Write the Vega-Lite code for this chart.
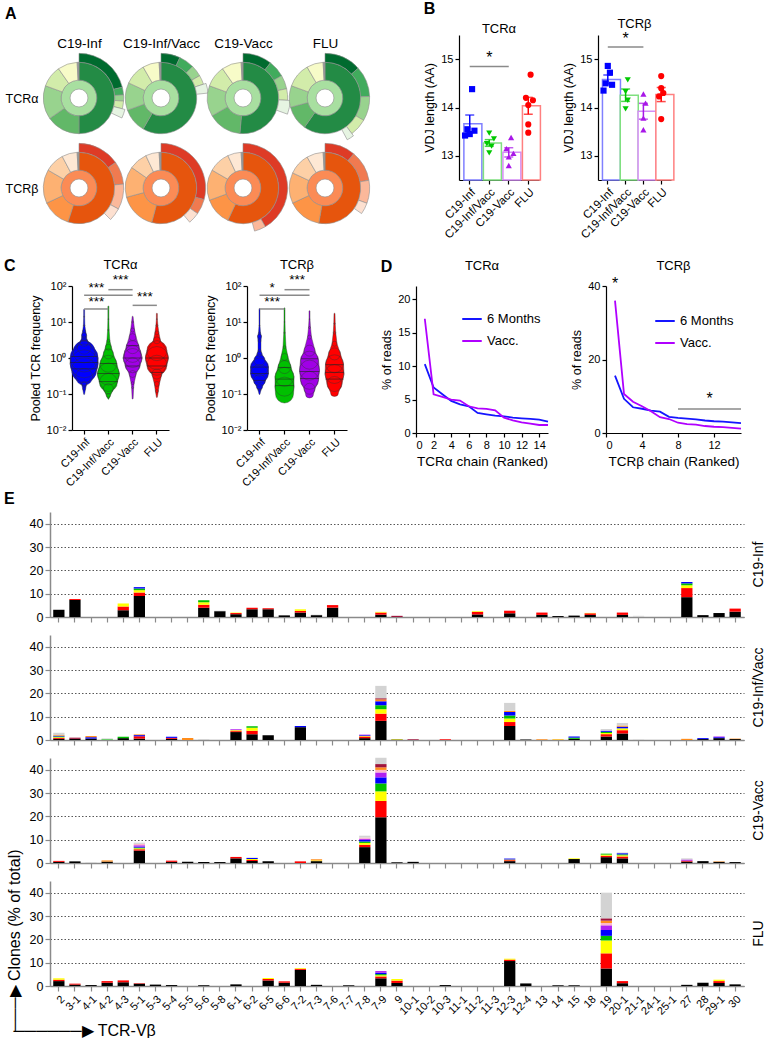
{
"$schema":"https://vega.github.io/schema/vega-lite/v6.json",
"background":"white",
"padding":{"left":4,"top":0,"right":2,"bottom":0},
"config":{
 "font":"Liberation Sans",
 "view":{"stroke":null},
 "axis":{"domainColor":"#000","domainWidth":1.2,"tickColor":"#000","tickWidth":1.2,"tickSize":4,"labelColor":"#000","titleColor":"#000","labelFontSize":11,"titleFontSize":12.5,"titleFontWeight":"normal","grid":false,"labelFont":"Liberation Sans","titleFont":"Liberation Sans"},
 "title":{"font":"Liberation Sans","fontWeight":"normal","fontSize":13,"color":"#000"},
 "legend":{"labelFont":"Liberation Sans","labelFontSize":12.5}
},
"datasets":{
"donut":[
{"c":"TCRα","g":"C19-Inf","t0":0,"t1":360,"r0":1,"r1":2,"s":"ai"},
{"c":"TCRα","g":"C19-Inf","t0":0,"t1":180,"r0":2,"r1":4,"s":"a1"},
{"c":"TCRα","g":"C19-Inf","t0":180,"t1":235,"r0":2,"r1":4,"s":"a3"},
{"c":"TCRα","g":"C19-Inf","t0":235,"t1":290,"r0":2,"r1":4,"s":"a4"},
{"c":"TCRα","g":"C19-Inf","t0":290,"t1":325,"r0":2,"r1":4,"s":"a6"},
{"c":"TCRα","g":"C19-Inf","t0":325,"t1":357,"r0":2,"r1":4,"s":"a7"},
{"c":"TCRα","g":"C19-Inf","t0":357,"t1":360,"r0":2,"r1":4,"s":"gr"},
{"c":"TCRα","g":"C19-Inf","t0":0,"t1":76,"r0":4,"r1":5,"s":"a0"},
{"c":"TCRα","g":"C19-Inf","t0":76,"t1":86,"r0":4,"r1":5,"s":"a2"},
{"c":"TCRα","g":"C19-Inf","t0":86,"t1":94,"r0":4,"r1":5,"s":"a4"},
{"c":"TCRα","g":"C19-Inf","t0":94,"t1":104,"r0":4,"r1":5,"s":"a6"},
{"c":"TCRα","g":"C19-Inf","t0":104,"t1":115,"r0":4,"r1":5.3,"s":"a8"},
{"c":"TCRα","g":"C19-Inf/Vacc","t0":0,"t1":360,"r0":1,"r1":2,"s":"ai"},
{"c":"TCRα","g":"C19-Inf/Vacc","t0":0,"t1":210,"r0":2,"r1":4,"s":"a1"},
{"c":"TCRα","g":"C19-Inf/Vacc","t0":210,"t1":250,"r0":2,"r1":4,"s":"a3"},
{"c":"TCRα","g":"C19-Inf/Vacc","t0":250,"t1":295,"r0":2,"r1":4,"s":"a4"},
{"c":"TCRα","g":"C19-Inf/Vacc","t0":295,"t1":330,"r0":2,"r1":4,"s":"a6"},
{"c":"TCRα","g":"C19-Inf/Vacc","t0":330,"t1":357,"r0":2,"r1":4,"s":"a7"},
{"c":"TCRα","g":"C19-Inf/Vacc","t0":357,"t1":360,"r0":2,"r1":4,"s":"gr"},
{"c":"TCRα","g":"C19-Inf/Vacc","t0":0,"t1":25,"r0":4,"r1":5,"s":"a0"},
{"c":"TCRα","g":"C19-Inf/Vacc","t0":25,"t1":45,"r0":4,"r1":5,"s":"a2"},
{"c":"TCRα","g":"C19-Inf/Vacc","t0":45,"t1":60,"r0":4,"r1":5,"s":"a4"},
{"c":"TCRα","g":"C19-Inf/Vacc","t0":60,"t1":72,"r0":4,"r1":5,"s":"a6"},
{"c":"TCRα","g":"C19-Inf/Vacc","t0":72,"t1":84,"r0":4,"r1":5.3,"s":"a8"},
{"c":"TCRα","g":"C19-Vacc","t0":0,"t1":360,"r0":1,"r1":2,"s":"ai"},
{"c":"TCRα","g":"C19-Vacc","t0":0,"t1":185,"r0":2,"r1":4,"s":"a1"},
{"c":"TCRα","g":"C19-Vacc","t0":185,"t1":240,"r0":2,"r1":4,"s":"a3"},
{"c":"TCRα","g":"C19-Vacc","t0":240,"t1":290,"r0":2,"r1":4,"s":"a4"},
{"c":"TCRα","g":"C19-Vacc","t0":290,"t1":325,"r0":2,"r1":4,"s":"a6"},
{"c":"TCRα","g":"C19-Vacc","t0":325,"t1":357,"r0":2,"r1":4,"s":"a7"},
{"c":"TCRα","g":"C19-Vacc","t0":357,"t1":360,"r0":2,"r1":4,"s":"gr"},
{"c":"TCRα","g":"C19-Vacc","t0":0,"t1":38,"r0":4,"r1":5,"s":"a0"},
{"c":"TCRα","g":"C19-Vacc","t0":38,"t1":60,"r0":4,"r1":5,"s":"a2"},
{"c":"TCRα","g":"C19-Vacc","t0":60,"t1":78,"r0":4,"r1":5,"s":"a4"},
{"c":"TCRα","g":"C19-Vacc","t0":78,"t1":93,"r0":4,"r1":5,"s":"a6"},
{"c":"TCRα","g":"C19-Vacc","t0":93,"t1":110,"r0":4,"r1":5.3,"s":"a8"},
{"c":"TCRα","g":"FLU","t0":0,"t1":360,"r0":1,"r1":2,"s":"ai"},
{"c":"TCRα","g":"FLU","t0":0,"t1":215,"r0":2,"r1":4,"s":"a1"},
{"c":"TCRα","g":"FLU","t0":215,"t1":255,"r0":2,"r1":4,"s":"a3"},
{"c":"TCRα","g":"FLU","t0":255,"t1":290,"r0":2,"r1":4,"s":"a4"},
{"c":"TCRα","g":"FLU","t0":290,"t1":330,"r0":2,"r1":4,"s":"a6"},
{"c":"TCRα","g":"FLU","t0":330,"t1":357,"r0":2,"r1":4,"s":"a7"},
{"c":"TCRα","g":"FLU","t0":357,"t1":360,"r0":2,"r1":4,"s":"gr"},
{"c":"TCRα","g":"FLU","t0":0,"t1":48,"r0":4,"r1":5,"s":"a0"},
{"c":"TCRα","g":"FLU","t0":48,"t1":88,"r0":4,"r1":5,"s":"a2"},
{"c":"TCRα","g":"FLU","t0":88,"t1":120,"r0":4,"r1":5,"s":"a4"},
{"c":"TCRα","g":"FLU","t0":120,"t1":143,"r0":4,"r1":5,"s":"a6"},
{"c":"TCRα","g":"FLU","t0":143,"t1":152,"r0":4,"r1":5.3,"s":"a8"},
{"c":"TCRβ","g":"C19-Inf","t0":0,"t1":360,"r0":1,"r1":2,"s":"bi"},
{"c":"TCRβ","g":"C19-Inf","t0":0,"t1":198,"r0":2,"r1":4,"s":"b1"},
{"c":"TCRβ","g":"C19-Inf","t0":198,"t1":245,"r0":2,"r1":4,"s":"b3"},
{"c":"TCRβ","g":"C19-Inf","t0":245,"t1":300,"r0":2,"r1":4,"s":"b4"},
{"c":"TCRβ","g":"C19-Inf","t0":300,"t1":332,"r0":2,"r1":4,"s":"b6"},
{"c":"TCRβ","g":"C19-Inf","t0":332,"t1":357,"r0":2,"r1":4,"s":"b7"},
{"c":"TCRβ","g":"C19-Inf","t0":357,"t1":360,"r0":2,"r1":4,"s":"gr"},
{"c":"TCRβ","g":"C19-Inf","t0":0,"t1":55,"r0":4,"r1":5,"s":"b0"},
{"c":"TCRβ","g":"C19-Inf","t0":55,"t1":85,"r0":4,"r1":5,"s":"b2"},
{"c":"TCRβ","g":"C19-Inf","t0":85,"t1":118,"r0":4,"r1":5,"s":"b5"},
{"c":"TCRβ","g":"C19-Inf","t0":118,"t1":135,"r0":4,"r1":5,"s":"b8"},
{"c":"TCRβ","g":"C19-Inf/Vacc","t0":0,"t1":360,"r0":1,"r1":2,"s":"bi"},
{"c":"TCRβ","g":"C19-Inf/Vacc","t0":0,"t1":195,"r0":2,"r1":4,"s":"b1"},
{"c":"TCRβ","g":"C19-Inf/Vacc","t0":195,"t1":255,"r0":2,"r1":4,"s":"b3"},
{"c":"TCRβ","g":"C19-Inf/Vacc","t0":255,"t1":305,"r0":2,"r1":4,"s":"b4"},
{"c":"TCRβ","g":"C19-Inf/Vacc","t0":305,"t1":335,"r0":2,"r1":4,"s":"b6"},
{"c":"TCRβ","g":"C19-Inf/Vacc","t0":335,"t1":357,"r0":2,"r1":4,"s":"b7"},
{"c":"TCRβ","g":"C19-Inf/Vacc","t0":357,"t1":360,"r0":2,"r1":4,"s":"gr"},
{"c":"TCRβ","g":"C19-Inf/Vacc","t0":0,"t1":105,"r0":4,"r1":5,"s":"b0"},
{"c":"TCRβ","g":"C19-Inf/Vacc","t0":105,"t1":125,"r0":4,"r1":5,"s":"b2"},
{"c":"TCRβ","g":"C19-Inf/Vacc","t0":125,"t1":140,"r0":4,"r1":5,"s":"b8"},
{"c":"TCRβ","g":"C19-Vacc","t0":0,"t1":360,"r0":1,"r1":2,"s":"bi"},
{"c":"TCRβ","g":"C19-Vacc","t0":0,"t1":205,"r0":2,"r1":4,"s":"b1"},
{"c":"TCRβ","g":"C19-Vacc","t0":205,"t1":250,"r0":2,"r1":4,"s":"b3"},
{"c":"TCRβ","g":"C19-Vacc","t0":250,"t1":300,"r0":2,"r1":4,"s":"b4"},
{"c":"TCRβ","g":"C19-Vacc","t0":300,"t1":335,"r0":2,"r1":4,"s":"b6"},
{"c":"TCRβ","g":"C19-Vacc","t0":335,"t1":357,"r0":2,"r1":4,"s":"b7"},
{"c":"TCRβ","g":"C19-Vacc","t0":357,"t1":360,"r0":2,"r1":4,"s":"gr"},
{"c":"TCRβ","g":"C19-Vacc","t0":0,"t1":150,"r0":4,"r1":5,"s":"b0"},
{"c":"TCRβ","g":"C19-Vacc","t0":150,"t1":165,"r0":4,"r1":5,"s":"b5"},
{"c":"TCRβ","g":"FLU","t0":0,"t1":360,"r0":1,"r1":2,"s":"bi"},
{"c":"TCRβ","g":"FLU","t0":0,"t1":190,"r0":2,"r1":4,"s":"b1"},
{"c":"TCRβ","g":"FLU","t0":190,"t1":245,"r0":2,"r1":4,"s":"b3"},
{"c":"TCRβ","g":"FLU","t0":245,"t1":295,"r0":2,"r1":4,"s":"b4"},
{"c":"TCRβ","g":"FLU","t0":295,"t1":330,"r0":2,"r1":4,"s":"b6"},
{"c":"TCRβ","g":"FLU","t0":330,"t1":357,"r0":2,"r1":4,"s":"b7"},
{"c":"TCRβ","g":"FLU","t0":357,"t1":360,"r0":2,"r1":4,"s":"gr"},
{"c":"TCRβ","g":"FLU","t0":0,"t1":40,"r0":4,"r1":5,"s":"b0"},
{"c":"TCRβ","g":"FLU","t0":40,"t1":80,"r0":4,"r1":5,"s":"b2"},
{"c":"TCRβ","g":"FLU","t0":80,"t1":110,"r0":4,"r1":5,"s":"b5"},
{"c":"TCRβ","g":"FLU","t0":110,"t1":125,"r0":4,"r1":5,"s":"b8"}
],
"vdj":[
{"c":"TCRα","g":"C19-Inf","v":14.38,"i":"3"},{"c":"TCRα","g":"C19-Inf","v":13.55,"i":"1"},{"c":"TCRα","g":"C19-Inf","v":13.52,"i":"4"},{"c":"TCRα","g":"C19-Inf","v":13.45,"i":"2"},{"c":"TCRα","g":"C19-Inf","v":13.42,"i":"0"},
{"c":"TCRα","g":"C19-Inf/Vacc","v":13.47,"i":"2"},{"c":"TCRα","g":"C19-Inf/Vacc","v":13.35,"i":"4"},{"c":"TCRα","g":"C19-Inf/Vacc","v":13.25,"i":"1"},{"c":"TCRα","g":"C19-Inf/Vacc","v":13.2,"i":"3"},{"c":"TCRα","g":"C19-Inf/Vacc","v":13.06,"i":"2"},
{"c":"TCRα","g":"C19-Vacc","v":13.38,"i":"3"},{"c":"TCRα","g":"C19-Vacc","v":13.15,"i":"1"},{"c":"TCRα","g":"C19-Vacc","v":13.05,"i":"4"},{"c":"TCRα","g":"C19-Vacc","v":12.98,"i":"2"},{"c":"TCRα","g":"C19-Vacc","v":12.8,"i":"2"},
{"c":"TCRα","g":"FLU","v":14.68,"i":"3"},{"c":"TCRα","g":"FLU","v":14.2,"i":"1"},{"c":"TCRα","g":"FLU","v":14.15,"i":"4"},{"c":"TCRα","g":"FLU","v":14.05,"i":"2"},{"c":"TCRα","g":"FLU","v":13.65,"i":"2"},{"c":"TCRα","g":"FLU","v":13.48,"i":"2"},
{"c":"TCRβ","g":"C19-Inf","v":14.86,"i":"2"},{"c":"TCRβ","g":"C19-Inf","v":14.72,"i":"3"},{"c":"TCRβ","g":"C19-Inf","v":14.5,"i":"1"},{"c":"TCRβ","g":"C19-Inf","v":14.47,"i":"4"},{"c":"TCRβ","g":"C19-Inf","v":14.35,"i":"0"},
{"c":"TCRβ","g":"C19-Inf/Vacc","v":14.57,"i":"3"},{"c":"TCRβ","g":"C19-Inf/Vacc","v":14.33,"i":"2"},{"c":"TCRβ","g":"C19-Inf/Vacc","v":14.15,"i":"3"},{"c":"TCRβ","g":"C19-Inf/Vacc","v":13.97,"i":"2"},
{"c":"TCRβ","g":"C19-Vacc","v":14.28,"i":"2"},{"c":"TCRβ","g":"C19-Vacc","v":14.09,"i":"3"},{"c":"TCRβ","g":"C19-Vacc","v":13.78,"i":"2"},{"c":"TCRβ","g":"C19-Vacc","v":13.54,"i":"2"},
{"c":"TCRβ","g":"FLU","v":14.65,"i":"2"},{"c":"TCRβ","g":"FLU","v":14.4,"i":"2"},{"c":"TCRβ","g":"FLU","v":14.3,"i":"3"},{"c":"TCRβ","g":"FLU","v":14.23,"i":"1"},{"c":"TCRβ","g":"FLU","v":13.76,"i":"2"}
],
"sigB":[
{"c":"TCRα","g1":"C19-Inf","g2":"C19-Vacc","y":14.85,"gt":"C19-Inf/Vacc","ty":15.03,"lab":"*"},
{"c":"TCRβ","g1":"C19-Inf","g2":"C19-Vacc","y":15.25,"gt":"C19-Inf/Vacc","ty":15.42,"lab":"*"}
],
"vio":[
{"c":"TCRα","g":"C19-Inf","v":0.1,"w":0},{"c":"TCRα","g":"C19-Inf","v":0.14,"w":3},{"c":"TCRα","g":"C19-Inf","v":0.19,"w":5},{"c":"TCRα","g":"C19-Inf","v":0.3,"w":17},{"c":"TCRα","g":"C19-Inf","v":0.46,"w":25},{"c":"TCRα","g":"C19-Inf","v":0.69,"w":28},{"c":"TCRα","g":"C19-Inf","v":1.0,"w":28},{"c":"TCRα","g":"C19-Inf","v":1.48,"w":22},{"c":"TCRα","g":"C19-Inf","v":2.0,"w":14},{"c":"TCRα","g":"C19-Inf","v":2.7,"w":8},{"c":"TCRα","g":"C19-Inf","v":3.5,"w":5},{"c":"TCRα","g":"C19-Inf","v":4.3,"w":5},{"c":"TCRα","g":"C19-Inf","v":5.6,"w":3},{"c":"TCRα","g":"C19-Inf","v":8,"w":1.5},{"c":"TCRα","g":"C19-Inf","v":14,"w":1},{"c":"TCRα","g":"C19-Inf","v":22,"w":0},
{"c":"TCRα","g":"C19-Inf/Vacc","v":0.074,"w":0},{"c":"TCRα","g":"C19-Inf/Vacc","v":0.09,"w":4},{"c":"TCRα","g":"C19-Inf/Vacc","v":0.14,"w":10},{"c":"TCRα","g":"C19-Inf/Vacc","v":0.21,"w":18},{"c":"TCRα","g":"C19-Inf/Vacc","v":0.36,"w":22},{"c":"TCRα","g":"C19-Inf/Vacc","v":0.69,"w":17},{"c":"TCRα","g":"C19-Inf/Vacc","v":1.3,"w":10},{"c":"TCRα","g":"C19-Inf/Vacc","v":2,"w":6},{"c":"TCRα","g":"C19-Inf/Vacc","v":3,"w":3},{"c":"TCRα","g":"C19-Inf/Vacc","v":6,"w":1.5},{"c":"TCRα","g":"C19-Inf/Vacc","v":12,"w":1},{"c":"TCRα","g":"C19-Inf/Vacc","v":27,"w":0},
{"c":"TCRα","g":"C19-Vacc","v":0.075,"w":0},{"c":"TCRα","g":"C19-Vacc","v":0.15,"w":2},{"c":"TCRα","g":"C19-Vacc","v":0.2,"w":3},{"c":"TCRα","g":"C19-Vacc","v":0.36,"w":7},{"c":"TCRα","g":"C19-Vacc","v":0.63,"w":15},{"c":"TCRα","g":"C19-Vacc","v":1.0,"w":19},{"c":"TCRα","g":"C19-Vacc","v":1.3,"w":17},{"c":"TCRα","g":"C19-Vacc","v":2.0,"w":13},{"c":"TCRα","g":"C19-Vacc","v":3.8,"w":7},{"c":"TCRα","g":"C19-Vacc","v":6,"w":4},{"c":"TCRα","g":"C19-Vacc","v":10,"w":2},{"c":"TCRα","g":"C19-Vacc","v":14,"w":0},
{"c":"TCRα","g":"FLU","v":0.083,"w":0},{"c":"TCRα","g":"FLU","v":0.12,"w":3},{"c":"TCRα","g":"FLU","v":0.19,"w":5},{"c":"TCRα","g":"FLU","v":0.36,"w":10},{"c":"TCRα","g":"FLU","v":0.63,"w":20},{"c":"TCRα","g":"FLU","v":1.0,"w":23},{"c":"TCRα","g":"FLU","v":1.6,"w":20},{"c":"TCRα","g":"FLU","v":3.1,"w":7},{"c":"TCRα","g":"FLU","v":5,"w":4},{"c":"TCRα","g":"FLU","v":8,"w":2},{"c":"TCRα","g":"FLU","v":12,"w":1},{"c":"TCRα","g":"FLU","v":17,"w":0},
{"c":"TCRβ","g":"C19-Inf","v":0.1,"w":0},{"c":"TCRβ","g":"C19-Inf","v":0.13,"w":3},{"c":"TCRβ","g":"C19-Inf","v":0.16,"w":6},{"c":"TCRβ","g":"C19-Inf","v":0.24,"w":12},{"c":"TCRβ","g":"C19-Inf","v":0.37,"w":18},{"c":"TCRβ","g":"C19-Inf","v":0.56,"w":18},{"c":"TCRβ","g":"C19-Inf","v":0.87,"w":11},{"c":"TCRβ","g":"C19-Inf","v":1.3,"w":5},{"c":"TCRβ","g":"C19-Inf","v":1.6,"w":3},{"c":"TCRβ","g":"C19-Inf","v":3,"w":3},{"c":"TCRβ","g":"C19-Inf","v":4,"w":4},{"c":"TCRβ","g":"C19-Inf","v":5,"w":2},{"c":"TCRβ","g":"C19-Inf","v":8,"w":1},{"c":"TCRβ","g":"C19-Inf","v":23,"w":0},
{"c":"TCRβ","g":"C19-Inf/Vacc","v":0.1,"w":18},{"c":"TCRβ","g":"C19-Inf/Vacc","v":0.16,"w":19},{"c":"TCRβ","g":"C19-Inf/Vacc","v":0.3,"w":19},{"c":"TCRβ","g":"C19-Inf/Vacc","v":0.56,"w":13},{"c":"TCRβ","g":"C19-Inf/Vacc","v":1.07,"w":7},{"c":"TCRβ","g":"C19-Inf/Vacc","v":2,"w":3},{"c":"TCRβ","g":"C19-Inf/Vacc","v":5,"w":1.5},{"c":"TCRβ","g":"C19-Inf/Vacc","v":10,"w":1},{"c":"TCRβ","g":"C19-Inf/Vacc","v":24,"w":0},
{"c":"TCRβ","g":"C19-Vacc","v":0.1,"w":8},{"c":"TCRβ","g":"C19-Vacc","v":0.14,"w":11},{"c":"TCRβ","g":"C19-Vacc","v":0.24,"w":18},{"c":"TCRβ","g":"C19-Vacc","v":0.46,"w":20},{"c":"TCRβ","g":"C19-Vacc","v":0.87,"w":18},{"c":"TCRβ","g":"C19-Vacc","v":1.6,"w":11},{"c":"TCRβ","g":"C19-Vacc","v":3.8,"w":4},{"c":"TCRβ","g":"C19-Vacc","v":7,"w":2},{"c":"TCRβ","g":"C19-Vacc","v":12,"w":1},{"c":"TCRβ","g":"C19-Vacc","v":20,"w":0},
{"c":"TCRβ","g":"FLU","v":0.11,"w":8},{"c":"TCRβ","g":"FLU","v":0.19,"w":15},{"c":"TCRβ","g":"FLU","v":0.36,"w":19},{"c":"TCRβ","g":"FLU","v":0.69,"w":18},{"c":"TCRβ","g":"FLU","v":1.3,"w":12},{"c":"TCRβ","g":"FLU","v":2.5,"w":5},{"c":"TCRβ","g":"FLU","v":5,"w":2.5},{"c":"TCRβ","g":"FLU","v":9,"w":1.5},{"c":"TCRβ","g":"FLU","v":17,"w":0}
],
"vq":[
{"c":"TCRα","g":"C19-Inf","v":0.5,"w":24},{"c":"TCRα","g":"C19-Inf","v":0.75,"w":28},{"c":"TCRα","g":"C19-Inf","v":1.1,"w":26},
{"c":"TCRα","g":"C19-Inf/Vacc","v":0.22,"w":19},{"c":"TCRα","g":"C19-Inf/Vacc","v":0.37,"w":22},{"c":"TCRα","g":"C19-Inf/Vacc","v":0.7,"w":17},
{"c":"TCRα","g":"C19-Vacc","v":0.6,"w":15},{"c":"TCRα","g":"C19-Vacc","v":1.0,"w":19},{"c":"TCRα","g":"C19-Vacc","v":2.2,"w":12},
{"c":"TCRα","g":"FLU","v":0.4,"w":13},{"c":"TCRα","g":"FLU","v":0.6,"w":20},{"c":"TCRα","g":"FLU","v":1.0,"w":23},
{"c":"TCRβ","g":"C19-Inf","v":0.24,"w":12},{"c":"TCRβ","g":"C19-Inf","v":0.37,"w":18},{"c":"TCRβ","g":"C19-Inf","v":0.56,"w":18},
{"c":"TCRβ","g":"C19-Inf/Vacc","v":0.17,"w":19},{"c":"TCRβ","g":"C19-Inf/Vacc","v":0.26,"w":18},{"c":"TCRβ","g":"C19-Inf/Vacc","v":0.55,"w":13},
{"c":"TCRβ","g":"C19-Vacc","v":0.27,"w":19},{"c":"TCRβ","g":"C19-Vacc","v":0.42,"w":20},{"c":"TCRβ","g":"C19-Vacc","v":0.95,"w":17},
{"c":"TCRβ","g":"FLU","v":0.26,"w":18},{"c":"TCRβ","g":"FLU","v":0.4,"w":19},{"c":"TCRβ","g":"FLU","v":0.65,"w":18}
],
"sigC":[
{"c":"TCRα","g1":"C19-Inf","g2":"C19-Vacc","y":55,"tg":"C19-Inf","ty":90,"lab":"***"},
{"c":"TCRα","g1":"C19-Inf/Vacc","g2":"C19-Vacc","y":79,"tg":"C19-Inf/Vacc","ty":145,"lab":"***"},
{"c":"TCRα","g1":"C19-Inf","g2":"C19-Inf/Vacc","y":23,"tg":"C19-Inf","ty":36,"lab":"***"},
{"c":"TCRα","g1":"C19-Vacc","g2":"FLU","y":29,"tg":"C19-Vacc","ty":49,"lab":"***"},
{"c":"TCRβ","g1":"C19-Inf","g2":"C19-Vacc","y":55,"tg":"C19-Inf","ty":90,"lab":"*"},
{"c":"TCRβ","g1":"C19-Inf/Vacc","g2":"C19-Vacc","y":79,"tg":"C19-Inf/Vacc","ty":145,"lab":"***"},
{"c":"TCRβ","g1":"C19-Inf","g2":"C19-Inf/Vacc","y":23,"tg":"C19-Inf","ty":36,"lab":"***"}
],
"rank":[
{"c":"TCRα","s":"6 Months","k":1,"v":10.3},{"c":"TCRα","s":"6 Months","k":2,"v":6.8},{"c":"TCRα","s":"6 Months","k":3,"v":5.8},{"c":"TCRα","s":"6 Months","k":4,"v":4.8},{"c":"TCRα","s":"6 Months","k":5,"v":4.3},{"c":"TCRα","s":"6 Months","k":6,"v":4.0},{"c":"TCRα","s":"6 Months","k":7,"v":3.0},{"c":"TCRα","s":"6 Months","k":8,"v":2.8},{"c":"TCRα","s":"6 Months","k":9,"v":2.6},{"c":"TCRα","s":"6 Months","k":10,"v":2.5},{"c":"TCRα","s":"6 Months","k":11,"v":2.3},{"c":"TCRα","s":"6 Months","k":12,"v":2.2},{"c":"TCRα","s":"6 Months","k":13,"v":2.1},{"c":"TCRα","s":"6 Months","k":14,"v":2.0},{"c":"TCRα","s":"6 Months","k":15,"v":1.7},
{"c":"TCRα","s":"Vacc.","k":1,"v":17.1},{"c":"TCRα","s":"Vacc.","k":2,"v":5.8},{"c":"TCRα","s":"Vacc.","k":3,"v":5.4},{"c":"TCRα","s":"Vacc.","k":4,"v":5.0},{"c":"TCRα","s":"Vacc.","k":5,"v":4.85},{"c":"TCRα","s":"Vacc.","k":6,"v":4.0},{"c":"TCRα","s":"Vacc.","k":7,"v":3.7},{"c":"TCRα","s":"Vacc.","k":8,"v":3.6},{"c":"TCRα","s":"Vacc.","k":9,"v":3.4},{"c":"TCRα","s":"Vacc.","k":10,"v":2.3},{"c":"TCRα","s":"Vacc.","k":11,"v":1.9},{"c":"TCRα","s":"Vacc.","k":12,"v":1.6},{"c":"TCRα","s":"Vacc.","k":13,"v":1.4},{"c":"TCRα","s":"Vacc.","k":14,"v":1.2},{"c":"TCRα","s":"Vacc.","k":15,"v":1.2},
{"c":"TCRβ","s":"6 Months","k":1,"v":15.6},{"c":"TCRβ","s":"6 Months","k":2,"v":9.3},{"c":"TCRβ","s":"6 Months","k":3,"v":7.0},{"c":"TCRβ","s":"6 Months","k":4,"v":6.6},{"c":"TCRβ","s":"6 Months","k":5,"v":6.1},{"c":"TCRβ","s":"6 Months","k":6,"v":5.8},{"c":"TCRβ","s":"6 Months","k":7,"v":4.4},{"c":"TCRβ","s":"6 Months","k":8,"v":4.1},{"c":"TCRβ","s":"6 Months","k":9,"v":3.9},{"c":"TCRβ","s":"6 Months","k":10,"v":3.7},{"c":"TCRβ","s":"6 Months","k":11,"v":3.4},{"c":"TCRβ","s":"6 Months","k":12,"v":3.2},{"c":"TCRβ","s":"6 Months","k":13,"v":3.1},{"c":"TCRβ","s":"6 Months","k":14,"v":2.9},{"c":"TCRβ","s":"6 Months","k":15,"v":2.7},
{"c":"TCRβ","s":"Vacc.","k":1,"v":36.0},{"c":"TCRβ","s":"Vacc.","k":2,"v":10.6},{"c":"TCRβ","s":"Vacc.","k":3,"v":8.5},{"c":"TCRβ","s":"Vacc.","k":4,"v":7.3},{"c":"TCRβ","s":"Vacc.","k":5,"v":5.9},{"c":"TCRβ","s":"Vacc.","k":6,"v":4.3},{"c":"TCRβ","s":"Vacc.","k":7,"v":3.8},{"c":"TCRβ","s":"Vacc.","k":8,"v":2.8},{"c":"TCRβ","s":"Vacc.","k":9,"v":2.4},{"c":"TCRβ","s":"Vacc.","k":10,"v":2.3},{"c":"TCRβ","s":"Vacc.","k":11,"v":1.9},{"c":"TCRβ","s":"Vacc.","k":12,"v":1.7},{"c":"TCRβ","s":"Vacc.","k":13,"v":1.6},{"c":"TCRβ","s":"Vacc.","k":14,"v":1.4},{"c":"TCRβ","s":"Vacc.","k":15,"v":1.2}
],
"sigD":[
{"t":"r","x":8,"x2":15,"y":6.5},
{"t":"s","x":1,"y":40.5,"lab":"*"},
{"t":"s","x":11.5,"y":9.3,"lab":"*"}
],
"clones":[
{"p":"C19-Inf","v":"2","a":3.1},
{"p":"C19-Inf","v":"3-1","a":7.3,"b":0.4},
{"p":"C19-Inf","v":"4-3","a":2.9,"b":1.6,"c":1.3},
{"p":"C19-Inf","v":"5-1","a":9.0,"b":1.5,"c":1.0,"d":0.7,"e":0.6},
{"p":"C19-Inf","v":"5-6","a":4.0,"b":1.3,"c":1.0,"d":0.9},
{"p":"C19-Inf","v":"5-8","a":2.5,"j":0.2},
{"p":"C19-Inf","v":"6-1","a":1.2,"b":0.5,"c":0.2},
{"p":"C19-Inf","v":"6-2","a":3.3,"b":0.7},
{"p":"C19-Inf","v":"6-5","a":3.3,"b":0.5},
{"p":"C19-Inf","v":"6-6","a":0.7},
{"p":"C19-Inf","v":"7-2","a":1.9,"b":0.7,"c":0.7},
{"p":"C19-Inf","v":"7-3","a":0.8,"j":0.2},
{"p":"C19-Inf","v":"7-6","a":4.0,"b":1.1},
{"p":"C19-Inf","v":"7-9","a":1.0,"b":0.9,"c":0.3},
{"p":"C19-Inf","v":"9","i":0.5},
{"p":"C19-Inf","v":"11-2","a":1.1,"b":1.1,"c":0.3},
{"p":"C19-Inf","v":"12-3","a":1.6,"b":1.1},
{"p":"C19-Inf","v":"13","a":0.9,"b":1.0},
{"p":"C19-Inf","v":"14","a":0.4},
{"p":"C19-Inf","v":"15","a":0.6},
{"p":"C19-Inf","v":"18","a":0.9,"b":0.7,"c":0.15},
{"p":"C19-Inf","v":"20-1","a":0.9,"b":1.0},
{"p":"C19-Inf","v":"21-1","j":0.5},
{"p":"C19-Inf","v":"27","a":8.5,"b":3.9,"c":1.2,"d":0.8,"e":0.6},
{"p":"C19-Inf","v":"28","a":0.8},
{"p":"C19-Inf","v":"29-1","a":1.7},
{"p":"C19-Inf","v":"30","a":2.3,"b":1.3},
{"p":"C19-Inf/Vacc","v":"2","a":0.5,"b":0.4,"c":0.3,"d":0.3,"e":0.3,"h":0.3,"j":1.0},
{"p":"C19-Inf/Vacc","v":"3-1","a":0.5,"i":0.5},
{"p":"C19-Inf/Vacc","v":"4-1","a":0.6,"e":0.6,"h":0.5},
{"p":"C19-Inf/Vacc","v":"4-2","d":0.3,"j":0.4},
{"p":"C19-Inf/Vacc","v":"4-3","a":0.8,"d":0.6},
{"p":"C19-Inf/Vacc","v":"5-1","a":0.6,"b":1.0,"e":0.5,"h":0.3},
{"p":"C19-Inf/Vacc","v":"5-4","a":0.5,"b":0.4,"e":0.5},
{"p":"C19-Inf/Vacc","v":"5-5","h":0.9},
{"p":"C19-Inf/Vacc","v":"5-6","j":0.4},
{"p":"C19-Inf/Vacc","v":"6-1","a":3.4,"b":0.4,"c":0.4,"f":0.4},
{"p":"C19-Inf/Vacc","v":"6-2","a":2.5,"b":1.5,"c":1.2,"d":0.7},
{"p":"C19-Inf/Vacc","v":"6-5","a":2.0},
{"p":"C19-Inf/Vacc","v":"7-2","a":5.5,"e":0.5},
{"p":"C19-Inf/Vacc","v":"7-8","a":0.8,"b":0.7,"c":0.3,"e":0.3,"f":0.2},
{"p":"C19-Inf/Vacc","v":"7-9","a":8.2,"b":3.1,"c":1.9,"d":1.7,"e":1.7,"h":0.8,"i":0.5,"j":5.3},
{"p":"C19-Inf/Vacc","v":"9","a":0.2,"c":0.2},
{"p":"C19-Inf/Vacc","v":"10-1","i":0.3},
{"p":"C19-Inf/Vacc","v":"10-3","b":0.3},
{"p":"C19-Inf/Vacc","v":"12-3","a":6.0,"b":1.7,"c":1.5,"d":1.3,"e":1.5,"h":0.5,"j":3.4},
{"p":"C19-Inf/Vacc","v":"12-4","a":0.2},
{"p":"C19-Inf/Vacc","v":"13","h":0.3},
{"p":"C19-Inf/Vacc","v":"14","c":0.2,"h":0.2},
{"p":"C19-Inf/Vacc","v":"15","a":0.5,"d":0.5,"e":0.5},
{"p":"C19-Inf/Vacc","v":"19","a":1.5,"b":1.0,"c":0.5,"d":0.5,"e":0.5,"j":0.7},
{"p":"C19-Inf/Vacc","v":"20-1","a":2.8,"b":1.4,"c":0.8,"e":0.7,"h":0.5,"j":1.1},
{"p":"C19-Inf/Vacc","v":"21-1","j":0.2},
{"p":"C19-Inf/Vacc","v":"27","h":0.5},
{"p":"C19-Inf/Vacc","v":"28","a":0.4,"e":0.4},
{"p":"C19-Inf/Vacc","v":"29-1","a":0.8,"e":0.4,"f":0.3},
{"p":"C19-Inf/Vacc","v":"30","a":0.4,"h":0.2},
{"p":"C19-Vacc","v":"2","a":0.5,"b":0.4},
{"p":"C19-Vacc","v":"3-1","a":0.7},
{"p":"C19-Vacc","v":"4-1","j":0.3},
{"p":"C19-Vacc","v":"4-2","a":0.6,"h":0.5},
{"p":"C19-Vacc","v":"5-1","a":5.3,"b":0.6,"c":0.4,"d":0.3,"e":0.4,"f":0.6,"g":0.6,"j":0.5},
{"p":"C19-Vacc","v":"5-4","a":0.5,"b":0.5},
{"p":"C19-Vacc","v":"5-5","a":0.5},
{"p":"C19-Vacc","v":"5-6","a":0.4},
{"p":"C19-Vacc","v":"5-8","a":0.4},
{"p":"C19-Vacc","v":"6-1","a":2.0,"b":0.6},
{"p":"C19-Vacc","v":"6-2","a":0.9,"b":0.4,"c":0.4,"e":0.4,"j":0.3},
{"p":"C19-Vacc","v":"6-5","a":0.7},
{"p":"C19-Vacc","v":"7-2","b":0.7},
{"p":"C19-Vacc","v":"7-3","a":0.8,"c":0.3,"h":0.5},
{"p":"C19-Vacc","v":"7-8","a":6.8,"b":1.0,"c":0.8,"d":0.6,"e":0.7,"f":0.5,"g":0.5,"j":0.8},
{"p":"C19-Vacc","v":"7-9","a":19.6,"b":7.0,"c":4.1,"d":3.4,"e":2.6,"f":2.1,"g":1.1,"h":1.1,"i":1.4,"j":2.7},
{"p":"C19-Vacc","v":"9","a":0.3},
{"p":"C19-Vacc","v":"10-1","a":0.5},
{"p":"C19-Vacc","v":"12-3","a":0.8,"b":0.4,"c":0.3,"e":0.4},
{"p":"C19-Vacc","v":"15","a":1.7,"c":0.3},
{"p":"C19-Vacc","v":"19","a":2.5,"b":0.6,"c":0.5,"d":0.4},
{"p":"C19-Vacc","v":"20-1","a":2.0,"b":0.8,"c":0.5,"d":0.4,"e":0.5,"j":0.3},
{"p":"C19-Vacc","v":"27","a":0.6,"b":0.4,"f":0.5,"j":0.5},
{"p":"C19-Vacc","v":"28","a":0.8},
{"p":"C19-Vacc","v":"29-1","a":0.5,"h":0.2},
{"p":"C19-Vacc","v":"30","a":0.4},
{"p":"FLU","v":"2","a":2.1,"b":0.6,"c":0.6},
{"p":"FLU","v":"3-1","a":0.6,"b":0.4},
{"p":"FLU","v":"4-1","a":0.4},
{"p":"FLU","v":"4-2","a":1.4,"b":0.7},
{"p":"FLU","v":"4-3","a":1.6,"b":0.8},
{"p":"FLU","v":"5-1","a":1.0,"b":0.2},
{"p":"FLU","v":"5-3","a":0.6},
{"p":"FLU","v":"5-4","a":0.4},
{"p":"FLU","v":"5-6","a":0.3},
{"p":"FLU","v":"6-1","a":0.7},
{"p":"FLU","v":"6-5","a":2.4,"b":0.6,"c":0.4},
{"p":"FLU","v":"6-6","a":1.4,"b":0.6},
{"p":"FLU","v":"7-2","a":6.9,"b":0.5,"c":0.3},
{"p":"FLU","v":"7-3","a":0.5},
{"p":"FLU","v":"7-7","a":0.3},
{"p":"FLU","v":"7-9","a":3.3,"b":0.8,"c":0.5,"d":0.5,"e":0.6,"f":0.7},
{"p":"FLU","v":"9","a":1.3,"b":1.0,"c":0.7},
{"p":"FLU","v":"10-3","a":0.4},
{"p":"FLU","v":"12-3","a":10.7,"b":0.6,"c":0.4},
{"p":"FLU","v":"12-4","a":1.1},
{"p":"FLU","v":"14","a":0.3},
{"p":"FLU","v":"15","a":0.3},
{"p":"FLU","v":"19","a":7.5,"b":6.5,"c":5.5,"d":2.0,"e":2.5,"f":2.0,"g":1.0,"h":1.0,"i":1.0,"j":11.0},
{"p":"FLU","v":"20-1","a":1.2,"b":0.9},
{"p":"FLU","v":"27","a":0.5},
{"p":"FLU","v":"28","a":1.4},
{"p":"FLU","v":"29-1","a":1.3,"b":0.8,"c":0.6},
{"p":"FLU","v":"30","a":0.7}
]
},
"spacing":17,
"resolve":{"scale":{"color":"independent","stroke":"independent","shape":"independent","size":"independent","x":"independent","y":"independent","xOffset":"independent","theta":"independent","radius":"independent"}},
"vconcat":[
{"spacing":0,
 "resolve":{"scale":{"color":"independent","stroke":"independent","shape":"independent","size":"independent","x":"independent","y":"independent","xOffset":"independent"}},
 "hconcat":[
 {"width":1,"height":1,"data":{"values":[]},"mark":{"type":"point","opacity":0},"encoding":{}},
 {"spacing":52,
  "resolve":{"scale":{"color":"independent","stroke":"independent","shape":"independent","size":"independent","x":"independent","y":"independent","xOffset":"independent"}},
  "hconcat":[
  {"title":{"text":"A","anchor":"start","fontSize":16,"fontWeight":"bold","offset":13},
   "spacing":0,
   "vconcat":[
    {"width":1,"height":1,"data":{"values":[]},"mark":{"type":"point","opacity":0},"encoding":{}},
    {"width":328,"height":180,
     "data":{"name":"donut"},
     "mark":{"type":"arc","stroke":"#8f8f8f","strokeWidth":0.6},
     "encoding":{
      "x":{"field":"g","type":"nominal","sort":["C19-Inf","C19-Inf/Vacc","C19-Vacc","FLU"],"scale":{"domain":["C19-Inf","C19-Inf/Vacc","C19-Vacc","FLU"],"paddingInner":0,"paddingOuter":0},"axis":{"orient":"top","title":null,"domain":false,"ticks":false,"labelAngle":0,"labelFontSize":13.5,"labelPadding":3}},
      "y":{"field":"c","type":"nominal","sort":["TCRα","TCRβ"],"scale":{"domain":["TCRα","TCRβ"],"paddingInner":0,"paddingOuter":0},"axis":{"title":null,"domain":false,"ticks":false,"labelFontSize":12.5,"labelPadding":0}},
      "theta":{"field":"t0","type":"quantitative","stack":null,"scale":{"domain":[0,360]}},
      "theta2":{"field":"t1"},
      "radius":{"field":"r0","type":"quantitative","scale":{"type":"linear","domain":[0,5.6],"range":[0,50],"zero":true}},
      "radius2":{"field":"r1"},
      "color":{"field":"s","type":"nominal","legend":null,"scale":{
        "domain":["a0","a1","a2","a3","a4","a6","a7","a8","ai","b0","b1","b2","b3","b4","b5","b6","b7","b8","bi","gr"],
        "range":["#006b2f","#238b45","#41ab5d","#62b868","#98d38e","#d2ecaa","#f7fbc8","#e6f4e2","#a8dfa0","#de3b26","#e6550d","#f07a50","#fd9446","#fdb172","#fbb89a","#fdd0a6","#fee8d4","#fde0d0","#fb8b55","#9a9a9a"]}}
     }
    }
   ]
  },
  {"title":{"text":"B","anchor":"start","fontSize":16,"fontWeight":"bold","offset":1},
   "spacing":20,
   "resolve":{"scale":{"color":"independent","stroke":"independent","shape":"independent","x":"independent","y":"independent","xOffset":"independent"}},
   "hconcat":[
   {"title":{"text":"TCRα","fontSize":13,"offset":-1,"frame":"group"},"width":80,"height":145,
    "layer":[
     {"data":{"name":"vdj"},"transform":[{"filter":"datum.c=='TCRα'"}],
      "mark":{"type":"bar","fill":"white","strokeWidth":1.5},
      "encoding":{
       "x":{"field":"g","type":"nominal","sort":["C19-Inf","C19-Inf/Vacc","C19-Vacc","FLU"],"scale":{"domain":["C19-Inf","C19-Inf/Vacc","C19-Vacc","FLU"],"paddingInner":0.4,"paddingOuter":0.25},"axis":{"title":null,"labelAngle":-45,"labelFontSize":11.5,"labelPadding":2}},
       "y":{"aggregate":"mean","field":"v","type":"quantitative","scale":{"domain":[12.5,15.5],"zero":false,"nice":false},"axis":{"values":[13,14,15],"title":"VDJ length (AA)"}},
       "y2":{"datum":12.5},
       "stroke":{"field":"g","type":"nominal","scale":{"domain":["C19-Inf","C19-Inf/Vacc","C19-Vacc","FLU"],"range":["#8080ff","#80e080","#d48cf5","#ff8080"]},"legend":null}}},
     {"data":{"name":"vdj"},"transform":[{"filter":"datum.c=='TCRα'"}],
      "mark":{"type":"errorbar","extent":"stderr","thickness":1.5,"ticks":{"size":9,"thickness":1.5}},
      "encoding":{
       "x":{"field":"g","type":"nominal","sort":["C19-Inf","C19-Inf/Vacc","C19-Vacc","FLU"]},
       "y":{"field":"v","type":"quantitative","title":"VDJ length (AA)"},
       "color":{"field":"g","type":"nominal","scale":{"domain":["C19-Inf","C19-Inf/Vacc","C19-Vacc","FLU"],"range":["#0000ff","#00c800","#a817e8","#ff0000"]},"legend":null}}},
     {"data":{"name":"vdj"},"transform":[{"filter":"datum.c=='TCRα'"}],
      "mark":{"type":"point","filled":true,"size":38,"opacity":1},
      "encoding":{
       "x":{"field":"g","type":"nominal","sort":["C19-Inf","C19-Inf/Vacc","C19-Vacc","FLU"]},
       "xOffset":{"field":"i","type":"nominal","sort":["0","1","2","3","4"]},
       "y":{"field":"v","type":"quantitative","title":"VDJ length (AA)"},
       "shape":{"field":"g","type":"nominal","scale":{"domain":["C19-Inf","C19-Inf/Vacc","C19-Vacc","FLU"],"range":["square","triangle-down","triangle-up","circle"]},"legend":null},
       "color":{"field":"g","type":"nominal","scale":{"domain":["C19-Inf","C19-Inf/Vacc","C19-Vacc","FLU"],"range":["#0000ff","#00c800","#a817e8","#ff0000"]},"legend":null}}},
     {"data":{"name":"sigB"},"transform":[{"filter":"datum.c=='TCRα'"}],
      "mark":{"type":"rule","color":"#8a8a8a","strokeWidth":1.5},
      "encoding":{"x":{"field":"g1","type":"nominal"},"x2":{"field":"g2"},"y":{"field":"y","type":"quantitative","title":"VDJ length (AA)"}}},
     {"data":{"name":"sigB"},"transform":[{"filter":"datum.c=='TCRα'"}],
      "mark":{"type":"text","fontSize":16,"baseline":"middle"},
      "encoding":{"x":{"field":"gt","type":"nominal"},"y":{"field":"ty","type":"quantitative","title":"VDJ length (AA)"},"text":{"field":"lab"}}}
    ]},
   {"title":{"text":"TCRβ","fontSize":13,"offset":0,"frame":"group"},"width":73,"height":145,
    "layer":[
     {"data":{"name":"vdj"},"transform":[{"filter":"datum.c=='TCRβ'"}],
      "mark":{"type":"bar","fill":"white","strokeWidth":1.5},
      "encoding":{
       "x":{"field":"g","type":"nominal","sort":["C19-Inf","C19-Inf/Vacc","C19-Vacc","FLU"],"scale":{"domain":["C19-Inf","C19-Inf/Vacc","C19-Vacc","FLU"],"paddingInner":0.4,"paddingOuter":0.25},"axis":{"title":null,"labelAngle":-45,"labelFontSize":11.5,"labelPadding":2}},
       "y":{"aggregate":"mean","field":"v","type":"quantitative","scale":{"domain":[12.5,15.5],"zero":false,"nice":false},"axis":{"values":[13,14,15],"title":"VDJ length (AA)"}},
       "y2":{"datum":12.5},
       "stroke":{"field":"g","type":"nominal","scale":{"domain":["C19-Inf","C19-Inf/Vacc","C19-Vacc","FLU"],"range":["#8080ff","#80e080","#d48cf5","#ff8080"]},"legend":null}}},
     {"data":{"name":"vdj"},"transform":[{"filter":"datum.c=='TCRβ'"}],
      "mark":{"type":"errorbar","extent":"stderr","thickness":1.5,"ticks":{"size":9,"thickness":1.5}},
      "encoding":{
       "x":{"field":"g","type":"nominal","sort":["C19-Inf","C19-Inf/Vacc","C19-Vacc","FLU"]},
       "y":{"field":"v","type":"quantitative","title":"VDJ length (AA)"},
       "color":{"field":"g","type":"nominal","scale":{"domain":["C19-Inf","C19-Inf/Vacc","C19-Vacc","FLU"],"range":["#0000ff","#00c800","#a817e8","#ff0000"]},"legend":null}}},
     {"data":{"name":"vdj"},"transform":[{"filter":"datum.c=='TCRβ'"}],
      "mark":{"type":"point","filled":true,"size":38,"opacity":1},
      "encoding":{
       "x":{"field":"g","type":"nominal","sort":["C19-Inf","C19-Inf/Vacc","C19-Vacc","FLU"]},
       "xOffset":{"field":"i","type":"nominal","sort":["0","1","2","3","4"]},
       "y":{"field":"v","type":"quantitative","title":"VDJ length (AA)"},
       "shape":{"field":"g","type":"nominal","scale":{"domain":["C19-Inf","C19-Inf/Vacc","C19-Vacc","FLU"],"range":["square","triangle-down","triangle-up","circle"]},"legend":null},
       "color":{"field":"g","type":"nominal","scale":{"domain":["C19-Inf","C19-Inf/Vacc","C19-Vacc","FLU"],"range":["#0000ff","#00c800","#a817e8","#ff0000"]},"legend":null}}},
     {"data":{"name":"sigB"},"transform":[{"filter":"datum.c=='TCRβ'"}],
      "mark":{"type":"rule","color":"#8a8a8a","strokeWidth":1.5},
      "encoding":{"x":{"field":"g1","type":"nominal"},"x2":{"field":"g2"},"y":{"field":"y","type":"quantitative","title":"VDJ length (AA)"}}},
     {"data":{"name":"sigB"},"transform":[{"filter":"datum.c=='TCRβ'"}],
      "mark":{"type":"text","fontSize":16,"baseline":"middle"},
      "encoding":{"x":{"field":"gt","type":"nominal"},"y":{"field":"ty","type":"quantitative","title":"VDJ length (AA)"},"text":{"field":"lab"}}}
    ]}
  ]}
 ]}
]},
{"spacing":2,
 "resolve":{"scale":{"color":"independent","size":"independent","x":"independent","y":"independent"}},
 "vconcat":[
 {"title":{"text":"C","anchor":"start","fontSize":16,"fontWeight":"bold","offset":-15},
  "spacing":24,
  "resolve":{"scale":{"color":"independent","size":"independent","x":"independent","y":"independent"}},
  "hconcat":[
  {"width":1,"height":1,"data":{"values":[]},"mark":{"type":"point","opacity":0},"encoding":{}},
  {"spacing":33,
   "resolve":{"scale":{"color":"independent","size":"independent","x":"independent","y":"independent"}},
   "hconcat":[
   {"spacing":34,
    "resolve":{"scale":{"color":"independent","size":"independent","x":"independent","y":"independent"}},
    "hconcat":[
    {"title":{"text":"TCRα","fontSize":13,"offset":1,"frame":"group"},"width":97,"height":144,
     "layer":[
      {"data":{"name":"vio"},"transform":[{"filter":"datum.c=='TCRα'"}],
       "mark":{"type":"trail","stroke":"#333","strokeWidth":0.4},
       "encoding":{
        "x":{"field":"g","type":"nominal","sort":["C19-Inf","C19-Inf/Vacc","C19-Vacc","FLU"],"scale":{"domain":["C19-Inf","C19-Inf/Vacc","C19-Vacc","FLU"],"paddingInner":0,"paddingOuter":0},"axis":{"title":null,"labelAngle":-45,"labelFontSize":11,"labelPadding":2}},
        "y":{"field":"v","type":"quantitative","scale":{"type":"log","domain":[0.01,100],"nice":false},"axis":{"values":[0.01,0.1,1,10,100],"title":"Pooled TCR frequency","labelExpr":"datum.value >= 99 ? '10²' : datum.value >= 9 ? '10¹' : datum.value >= 0.9 ? '10⁰' : datum.value >= 0.09 ? '10⁻¹' : '10⁻²'"}},
        "size":{"field":"w","type":"quantitative","scale":{"domain":[0,30],"range":[0,30],"zero":true},"legend":null},
        "color":{"field":"g","type":"nominal","scale":{"domain":["C19-Inf","C19-Inf/Vacc","C19-Vacc","FLU"],"range":["#0000ff","#00c000","#a000e6","#ff0000"]},"legend":null},
        "order":{"field":"v","type":"quantitative"}}},
      {"data":{"name":"vq"},"transform":[{"filter":"datum.c=='TCRα'"}],
       "mark":{"type":"tick","color":"#222","thickness":0.8,"opacity":0.75},
       "encoding":{"x":{"field":"g","type":"nominal"},"y":{"field":"v","type":"quantitative","title":"Pooled TCR frequency"},"size":{"field":"w","type":"quantitative"}}},
      {"data":{"name":"sigC"},"transform":[{"filter":"datum.c=='TCRα'"}],
       "mark":{"type":"rule","color":"#8a8a8a","strokeWidth":1.5},
       "encoding":{"x":{"field":"g1","type":"nominal"},"x2":{"field":"g2"},"y":{"field":"y","type":"quantitative","title":"Pooled TCR frequency"}}},
      {"data":{"name":"sigC"},"transform":[{"filter":"datum.c=='TCRα'"}],
       "mark":{"type":"text","fontSize":13.5,"baseline":"middle"},
       "encoding":{"x":{"field":"tg","type":"nominal","bandPosition":1},"y":{"field":"ty","type":"quantitative","title":"Pooled TCR frequency"},"text":{"field":"lab"}}}
     ]},
    {"title":{"text":"TCRβ","fontSize":13,"offset":1,"frame":"group"},"width":100,"height":144,
     "layer":[
      {"data":{"name":"vio"},"transform":[{"filter":"datum.c=='TCRβ'"}],
       "mark":{"type":"trail","stroke":"#333","strokeWidth":0.4},
       "encoding":{
        "x":{"field":"g","type":"nominal","sort":["C19-Inf","C19-Inf/Vacc","C19-Vacc","FLU"],"scale":{"domain":["C19-Inf","C19-Inf/Vacc","C19-Vacc","FLU"],"paddingInner":0,"paddingOuter":0},"axis":{"title":null,"labelAngle":-45,"labelFontSize":11,"labelPadding":2}},
        "y":{"field":"v","type":"quantitative","scale":{"type":"log","domain":[0.01,100],"nice":false},"axis":{"values":[0.01,0.1,1,10,100],"title":"Pooled TCR frequency","labelExpr":"datum.value >= 99 ? '10²' : datum.value >= 9 ? '10¹' : datum.value >= 0.9 ? '10⁰' : datum.value >= 0.09 ? '10⁻¹' : '10⁻²'"}},
        "size":{"field":"w","type":"quantitative","scale":{"domain":[0,30],"range":[0,30],"zero":true},"legend":null},
        "color":{"field":"g","type":"nominal","scale":{"domain":["C19-Inf","C19-Inf/Vacc","C19-Vacc","FLU"],"range":["#0000ff","#00c000","#a000e6","#ff0000"]},"legend":null},
        "order":{"field":"v","type":"quantitative"}}},
      {"data":{"name":"vq"},"transform":[{"filter":"datum.c=='TCRβ'"}],
       "mark":{"type":"tick","color":"#222","thickness":0.8,"opacity":0.75},
       "encoding":{"x":{"field":"g","type":"nominal"},"y":{"field":"v","type":"quantitative","title":"Pooled TCR frequency"},"size":{"field":"w","type":"quantitative"}}},
      {"data":{"name":"sigC"},"transform":[{"filter":"datum.c=='TCRβ'"}],
       "mark":{"type":"rule","color":"#8a8a8a","strokeWidth":1.5},
       "encoding":{"x":{"field":"g1","type":"nominal"},"x2":{"field":"g2"},"y":{"field":"y","type":"quantitative","title":"Pooled TCR frequency"}}},
      {"data":{"name":"sigC"},"transform":[{"filter":"datum.c=='TCRβ'"}],
       "mark":{"type":"text","fontSize":13.5,"baseline":"middle"},
       "encoding":{"x":{"field":"tg","type":"nominal","bandPosition":1},"y":{"field":"ty","type":"quantitative","title":"Pooled TCR frequency"},"text":{"field":"lab"}}}
     ]}
   ]},
   {"title":{"text":"D","anchor":"start","fontSize":16,"fontWeight":"bold","offset":-15},
    "spacing":18,
    "resolve":{"scale":{"color":"independent","x":"independent","y":"independent"}},
    "hconcat":[
    {"title":{"text":"TCRα","fontSize":13,"offset":13,"frame":"group"},"width":132,"height":147,
     "layer":[
      {"data":{"name":"rank"},"transform":[{"filter":"datum.c=='TCRα'"}],
       "mark":{"type":"line","strokeWidth":1.8},
       "encoding":{
        "x":{"field":"k","type":"quantitative","scale":{"domain":[0,15],"nice":false},"axis":{"values":[0,2,4,6,8,10,12,14],"title":"TCRα chain (Ranked)","titleFontSize":13.5}},
        "y":{"field":"v","type":"quantitative","scale":{"domain":[0,22],"nice":false},"axis":{"values":[0,5,10,15,20],"title":"% of reads"}},
        "color":{"field":"s","type":"nominal","scale":{"domain":["6 Months","Vacc."],"range":["#1515ff","#b000ff"]},"legend":{"title":null,"orient":"none","legendX":45,"legendY":22,"symbolType":"stroke","symbolStrokeWidth":2,"symbolSize":380,"labelFontSize":13,"rowPadding":4}}}}
     ]},
    {"title":{"text":"TCRβ","fontSize":13,"offset":3,"frame":"group"},"width":135,"height":147,
     "layer":[
      {"data":{"name":"rank"},"transform":[{"filter":"datum.c=='TCRβ'"}],
       "mark":{"type":"line","strokeWidth":1.8},
       "encoding":{
        "x":{"field":"k","type":"quantitative","scale":{"domain":[0,15],"nice":false},"axis":{"values":[0,2,4,6,8,10,12,14],"title":"TCRβ chain (Ranked)","titleFontSize":13.5}},
        "y":{"field":"v","type":"quantitative","scale":{"domain":[0,40],"nice":false},"axis":{"values":[0,10,20,30,40],"title":"% of reads"}},
        "color":{"field":"s","type":"nominal","scale":{"domain":["6 Months","Vacc."],"range":["#1515ff","#b000ff"]},"legend":{"title":null,"orient":"none","legendX":48,"legendY":24,"symbolType":"stroke","symbolStrokeWidth":2,"symbolSize":380,"labelFontSize":13,"rowPadding":4}}}},
      {"data":{"name":"sigD"},"transform":[{"filter":"datum.t=='r'"}],
       "mark":{"type":"rule","color":"#8a8a8a","strokeWidth":1.5},
       "encoding":{"x":{"field":"x","type":"quantitative"},"x2":{"field":"x2"},"y":{"field":"y","type":"quantitative"}}},
      {"data":{"name":"sigD"},"transform":[{"filter":"datum.t=='s'"}],
       "mark":{"type":"text","fontSize":16,"baseline":"middle"},
       "encoding":{"x":{"field":"x","type":"quantitative"},"y":{"field":"y","type":"quantitative"},"text":{"field":"lab"}}}
     ]}
   ]}
  ]}
 ]},
 {"title":{"text":"E","anchor":"start","fontSize":16,"fontWeight":"bold","offset":5},
  "spacing":0,
  "hconcat":[
  {"width":1,"height":1,"data":{"values":[]},"mark":{"type":"point","opacity":0},"encoding":{}},
  {"spacing":18,
   "bounds":"flush",
   "vconcat":[
    {"width":694,"height":105,"title":{"text":"C19-Inf","orient":"right","angle":270,"fontSize":14,"offset":-6,"anchor":"middle"},
     "data":{"name":"clones"},
     "transform":[{"filter":"datum.p=='C19-Inf'"},{"fold":["a","b","c","d","e","f","g","h","i","j"],"as":["k","val"]},{"filter":"isValid(datum.val)"}],
     "mark":{"type":"bar"},
     "encoding":{
      "x":{"field":"v","type":"nominal","sort":null,"scale":{"domain":["2","3-1","4-1","4-2","4-3","5-1","5-3","5-4","5-5","5-6","5-8","6-1","6-2","6-5","6-6","7-2","7-3","7-6","7-7","7-8","7-9","9","10-1","10-2","10-3","11-1","11-2","11-3","12-3","12-4","13","14","15","18","19","20-1","21-1","24-1","25-1","27","28","29-1","30"],"paddingInner":0.3,"paddingOuter":0.2},"axis":{"title":null,"labels":false,"tickSize":5,"tickColor":"#8a8a8a","domainColor":"#8a8a8a","domainWidth":1.5}},
      "y":{"field":"val","type":"quantitative","stack":"zero","scale":{"domain":[0,45],"nice":false},"axis":{"values":[0,10,20,30,40],"grid":true,"gridDash":[1.5,2],"gridColor":"#444","gridWidth":0.9,"title":null,"domainColor":"#8a8a8a","domainWidth":1.5,"tickColor":"#8a8a8a","tickSize":5,"labelFontSize":12.5}},
      "color":{"field":"k","type":"nominal","scale":{"domain":["a","b","c","d","e","f","g","h","i","j"],"range":["#000000","#ff0000","#ffff00","#00c000","#0000ff","#b020f0","#ffb6c8","#ff8c1a","#a0143c","#d3d3d3"]},"legend":null},
      "order":{"field":"k","type":"ordinal","sort":"ascending"}}},
    {"width":694,"height":105,"title":{"text":"C19-Inf/Vacc","orient":"right","angle":270,"fontSize":14,"offset":-6,"anchor":"middle"},
     "data":{"name":"clones"},
     "transform":[{"filter":"datum.p=='C19-Inf/Vacc'"},{"fold":["a","b","c","d","e","f","g","h","i","j"],"as":["k","val"]},{"filter":"isValid(datum.val)"}],
     "mark":{"type":"bar"},
     "encoding":{
      "x":{"field":"v","type":"nominal","sort":null,"scale":{"domain":["2","3-1","4-1","4-2","4-3","5-1","5-3","5-4","5-5","5-6","5-8","6-1","6-2","6-5","6-6","7-2","7-3","7-6","7-7","7-8","7-9","9","10-1","10-2","10-3","11-1","11-2","11-3","12-3","12-4","13","14","15","18","19","20-1","21-1","24-1","25-1","27","28","29-1","30"],"paddingInner":0.3,"paddingOuter":0.2},"axis":{"title":null,"labels":false,"tickSize":5,"tickColor":"#8a8a8a","domainColor":"#8a8a8a","domainWidth":1.5}},
      "y":{"field":"val","type":"quantitative","stack":"zero","scale":{"domain":[0,45],"nice":false},"axis":{"values":[0,10,20,30,40],"grid":true,"gridDash":[1.5,2],"gridColor":"#444","gridWidth":0.9,"title":null,"domainColor":"#8a8a8a","domainWidth":1.5,"tickColor":"#8a8a8a","tickSize":5,"labelFontSize":12.5}},
      "color":{"field":"k","type":"nominal","scale":{"domain":["a","b","c","d","e","f","g","h","i","j"],"range":["#000000","#ff0000","#ffff00","#00c000","#0000ff","#b020f0","#ffb6c8","#ff8c1a","#a0143c","#d3d3d3"]},"legend":null},
      "order":{"field":"k","type":"ordinal","sort":"ascending"}}},
    {"width":694,"height":105,"title":{"text":"C19-Vacc","orient":"right","angle":270,"fontSize":14,"offset":-6,"anchor":"middle"},
     "data":{"name":"clones"},
     "transform":[{"filter":"datum.p=='C19-Vacc'"},{"fold":["a","b","c","d","e","f","g","h","i","j"],"as":["k","val"]},{"filter":"isValid(datum.val)"}],
     "mark":{"type":"bar"},
     "encoding":{
      "x":{"field":"v","type":"nominal","sort":null,"scale":{"domain":["2","3-1","4-1","4-2","4-3","5-1","5-3","5-4","5-5","5-6","5-8","6-1","6-2","6-5","6-6","7-2","7-3","7-6","7-7","7-8","7-9","9","10-1","10-2","10-3","11-1","11-2","11-3","12-3","12-4","13","14","15","18","19","20-1","21-1","24-1","25-1","27","28","29-1","30"],"paddingInner":0.3,"paddingOuter":0.2},"axis":{"title":null,"labels":false,"tickSize":5,"tickColor":"#8a8a8a","domainColor":"#8a8a8a","domainWidth":1.5}},
      "y":{"field":"val","type":"quantitative","stack":"zero","scale":{"domain":[0,45],"nice":false},"axis":{"values":[0,10,20,30,40],"grid":true,"gridDash":[1.5,2],"gridColor":"#444","gridWidth":0.9,"title":null,"domainColor":"#8a8a8a","domainWidth":1.5,"tickColor":"#8a8a8a","tickSize":5,"labelFontSize":12.5}},
      "color":{"field":"k","type":"nominal","scale":{"domain":["a","b","c","d","e","f","g","h","i","j"],"range":["#000000","#ff0000","#ffff00","#00c000","#0000ff","#b020f0","#ffb6c8","#ff8c1a","#a0143c","#d3d3d3"]},"legend":null},
      "order":{"field":"k","type":"ordinal","sort":"ascending"}}},
    {"width":694,"height":105,"title":{"text":"FLU","orient":"right","angle":270,"fontSize":14,"offset":-6,"anchor":"middle"},
     "data":{"name":"clones"},
     "transform":[{"filter":"datum.p=='FLU'"},{"fold":["a","b","c","d","e","f","g","h","i","j"],"as":["k","val"]},{"filter":"isValid(datum.val)"}],
     "mark":{"type":"bar"},
     "encoding":{
      "x":{"field":"v","type":"nominal","sort":null,"scale":{"domain":["2","3-1","4-1","4-2","4-3","5-1","5-3","5-4","5-5","5-6","5-8","6-1","6-2","6-5","6-6","7-2","7-3","7-6","7-7","7-8","7-9","9","10-1","10-2","10-3","11-1","11-2","11-3","12-3","12-4","13","14","15","18","19","20-1","21-1","24-1","25-1","27","28","29-1","30"],"paddingInner":0.3,"paddingOuter":0.2},"axis":{"labels":true,"labelAngle":-45,"labelFontSize":11,"labelPadding":2,"tickSize":5,"tickColor":"#8a8a8a","domainColor":"#8a8a8a","domainWidth":1.5,"title":"──────▶  TCR-Vβ","titleFontSize":16,"titleX":-37,"titleY":44,"titleAlign":"left","titleBaseline":"middle"}},
      "y":{"field":"val","type":"quantitative","stack":"zero","scale":{"domain":[0,45],"nice":false},"axis":{"values":[0,10,20,30,40],"grid":true,"gridDash":[1.5,2],"gridColor":"#444","gridWidth":0.9,"domainColor":"#8a8a8a","domainWidth":1.5,"tickColor":"#8a8a8a","tickSize":5,"labelFontSize":12.5,"title":"───▶ Clones (% of total)","titleFontSize":16,"titleX":-36,"titleY":150,"titleAngle":270,"titleAlign":"left","titleBaseline":"middle"}},
      "color":{"field":"k","type":"nominal","scale":{"domain":["a","b","c","d","e","f","g","h","i","j"],"range":["#000000","#ff0000","#ffff00","#00c000","#0000ff","#b020f0","#ffb6c8","#ff8c1a","#a0143c","#d3d3d3"]},"legend":null},
      "order":{"field":"k","type":"ordinal","sort":"ascending"}}}
   ]}
  ]}
 ]}
]
}
